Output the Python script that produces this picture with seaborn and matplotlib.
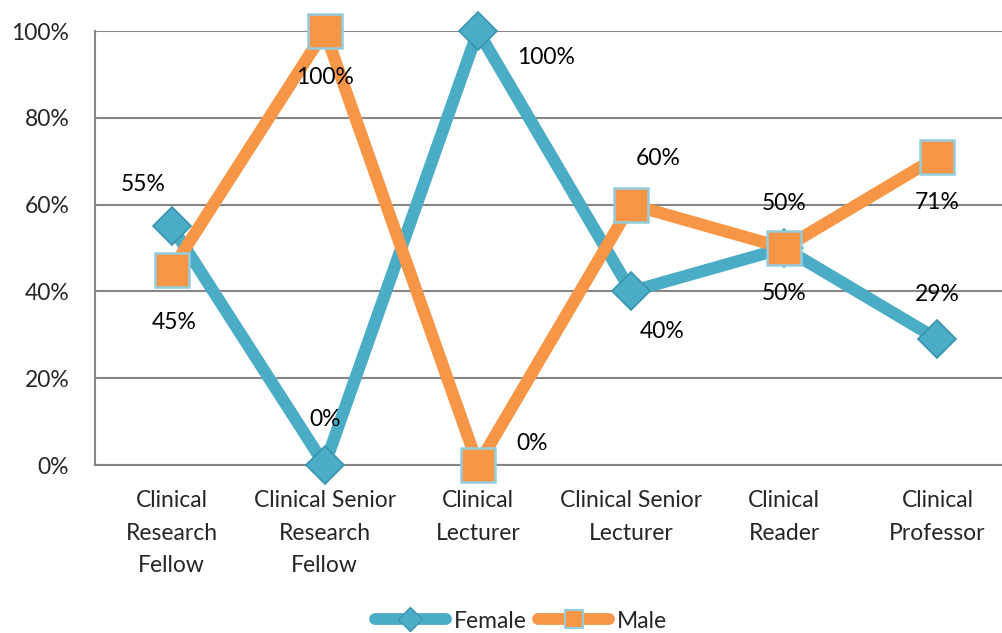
import matplotlib
matplotlib.use("Agg")
import matplotlib.pyplot as plt
from matplotlib.lines import Line2D
import seaborn as sns
import pandas as pd

# Share of each clinical academic grade, by gender
grades = [
    "Clinical\nResearch\nFellow",
    "Clinical Senior\nResearch\nFellow",
    "Clinical\nLecturer",
    "Clinical Senior\nLecturer",
    "Clinical\nReader",
    "Clinical\nProfessor",
]
female = [55, 0, 100, 40, 50, 29]
male = [45, 100, 0, 60, 50, 71]
y_ticks = [0, 20, 40, 60, 80, 100]

# label offsets (pixels) relative to each point
female_offsets = [(-28, 42), (0, 45), (68, -26), (31, -40), (0, -45), (0, 45)]
male_offsets = [(3, -53), (0, -46), (54, 22), (27, 46), (0, 45), (0, -46)]

FEMALE_C = "#4BACC6"
MALE_C = "#F79646"
GRID_C = "#868686"
FS = 16.5

sns.set_style("white")
plt.rcParams["font.family"] = ["Lato", "DejaVu Sans"]

fig = plt.figure(figsize=(10.03, 6.33), dpi=100)
ax = fig.add_axes([95 / 1003, 1 - 465 / 633, (1014 - 95) / 1003, (465 - 31) / 633])

df = pd.DataFrame({"pos": range(len(grades)), "Female": female, "Male": male})

sns.lineplot(data=df, x="pos", y="Female", ax=ax, color=FEMALE_C, linewidth=8.8,
             marker="D", markersize=19, markerfacecolor=FEMALE_C,
             markeredgecolor="#3A95AE", markeredgewidth=1.2, zorder=3,
             solid_joinstyle="miter", clip_on=False)
sns.lineplot(data=df, x="pos", y="Male", ax=ax, color=MALE_C, linewidth=8.8,
             marker="s", markersize=24, markerfacecolor=MALE_C,
             markeredgecolor="#93CDDD", markeredgewidth=1.8, zorder=4,
             solid_joinstyle="miter", clip_on=False)

for i, (v, off) in enumerate(zip(female, female_offsets)):
    ax.annotate(f"{v}%", (i, v), xytext=off, textcoords="offset pixels",
                ha="center", va="center", fontsize=FS, color="black", zorder=6)
for i, (v, off) in enumerate(zip(male, male_offsets)):
    ax.annotate(f"{v}%", (i, v), xytext=off, textcoords="offset pixels",
                ha="center", va="center", fontsize=FS, color="black", zorder=6)

ax.set_xlim(-0.5, len(grades) - 0.5)
ax.set_ylim(0, 100)
ax.set_yticks(y_ticks)
ax.set_yticklabels([f"{t}%" for t in y_ticks], fontsize=FS)
ax.set_xticks(range(len(grades)))
ax.set_xticklabels(grades, fontsize=FS, linespacing=1.68)
ax.set_xticks([i - 0.5 for i in range(len(grades) + 1)], minor=True)
ax.tick_params(axis="x", which="major", length=0, pad=18)
ax.tick_params(axis="x", which="minor", length=6.5, width=1.5, color=GRID_C, direction="out")
ax.tick_params(axis="y", length=6.5, width=1.5, color=GRID_C, pad=12, direction="out")
ax.set_xlabel("")
ax.set_ylabel("")

ax.grid(axis="y", color=GRID_C, linewidth=1.5)
ax.grid(axis="x", visible=False)
ax.set_axisbelow(True)
for s in ["top", "right"]:
    ax.spines[s].set_visible(False)
for s in ["left", "bottom"]:
    ax.spines[s].set_color(GRID_C)
    ax.spines[s].set_linewidth(1.5)
    ax.spines[s].set_zorder(2)

handles = [
    Line2D([], [], color=FEMALE_C, linewidth=8.5, marker="D", markersize=12,
           markerfacecolor=FEMALE_C, markeredgecolor="#3A95AE", solid_capstyle="round"),
    Line2D([], [], color=MALE_C, linewidth=8.5, marker="s", markersize=13,
           markerfacecolor=MALE_C, markeredgecolor="#93CDDD", markeredgewidth=1.5,
           solid_capstyle="round"),
]
fig.legend(handles, ["Female", "Male"], loc="center", bbox_to_anchor=(521 / 1003, 1 - 621 / 633),
           ncol=2, frameon=False, fontsize=FS, handlelength=3.1, handletextpad=0.35,
           columnspacing=0.5)

fig.savefig("out.png", dpi=100)
